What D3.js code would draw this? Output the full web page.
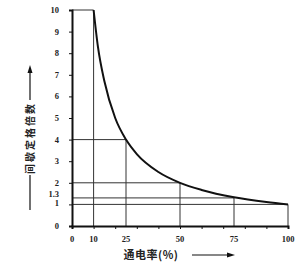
<!DOCTYPE html>
<html><head><meta charset="utf-8">
<script src="https://cdn.jsdelivr.net/npm/d3@7/dist/d3.min.js"></script>
<style>html,body{margin:0;padding:0;background:#fff;}svg{display:block;}</style>
</head><body>
<script>
// Data
const curveX = [10, 12, 15, 20, 25, 30, 40, 50, 60, 75, 90, 100];
const curveY = [10, 8.3, 6.7, 5, 4, 3.33, 2.5, 2, 1.67, 1.33, 1.11, 1];
const refX = [10, 25, 50, 75, 100];
const refY = [10, 4, 2, 1.3, 1];
const yTicks = [0, 1, 1.3, 2, 3, 4, 5, 6, 7, 8, 9, 10];
const yTickMarks = [0, 1, 2, 3, 4, 5, 6, 7, 8, 9, 10];
const xTickMarks = [0, 10, 20, 30, 40, 50, 60, 70, 80, 90, 100];
const xTickLabels = [0, 10, 25, 50, 75, 100];
const xTitle = "通电率(%)";
const yTitle = "间歇定格倍数";

const W = 300, H = 275;
const svg = d3.select("body").append("svg").attr("width", W).attr("height", H);
const x = d3.scaleLinear().domain([0, 100]).range([72, 288]);
const y = d3.scaleLinear().domain([0, 10]).range([226, 10]);
const serif = "'Liberation Serif','DejaVu Serif',serif";

// reference lines
const g = svg.append("g").attr("stroke", "#333").attr("stroke-width", 1);
refX.forEach((rx, i) => {
  g.append("line").attr("x1", x(0)).attr("x2", x(rx)).attr("y1", y(refY[i])).attr("y2", y(refY[i]));
  g.append("line").attr("x1", x(rx)).attr("x2", x(rx)).attr("y1", y(0)).attr("y2", y(refY[i]));
});

// curve
const pts = curveX.map((d, i) => [d, curveY[i]]);
svg.append("path").datum(pts)
  .attr("d", d3.line().x(d => x(d[0])).y(d => y(d[1])).curve(d3.curveMonotoneX))
  .attr("fill", "none").attr("stroke", "#111").attr("stroke-width", 2);

// axes
const yAxis = d3.axisLeft(y).tickValues(yTickMarks).tickSize(3).tickFormat("");
const ya = svg.append("g").attr("transform", `translate(${x(0)},0)`).call(yAxis);
ya.select(".domain").attr("stroke", "#111").attr("stroke-width", 2);
ya.selectAll(".tick line").attr("stroke", "#111");
const xAxis = d3.axisBottom(x).tickValues(xTickMarks).tickSize(3).tickFormat("");
const xa = svg.append("g").attr("transform", `translate(0,${y(0)})`).call(xAxis);
xa.select(".domain").attr("stroke", "#111").attr("stroke-width", 2);
xa.selectAll(".tick line").attr("stroke", "#111");

// y tick labels
svg.append("g").selectAll("text").data(yTicks).join("text")
  .attr("x", 59).attr("y", d => y(d) + (d === 1.3 ? -1 : d === 1 ? 2 : 3))
  .attr("text-anchor", "end").attr("font-family", serif).attr("font-size", 8.5)
  .attr("font-weight", "bold").attr("fill", "#222")
  .text(d => d);

// x tick labels
svg.append("g").selectAll("text").data(xTickLabels).join("text")
  .attr("x", d => x(d)).attr("y", 242)
  .attr("text-anchor", "middle").attr("font-family", serif).attr("font-size", 8.5)
  .attr("font-weight", "bold").attr("fill", "#222")
  .text(d => d);

// x title + arrow
svg.append("text").attr("x", 151).attr("y", 259).attr("text-anchor", "middle")
  .attr("font-family", "'Noto Sans CJK SC',sans-serif").attr("font-size", 11).attr("font-weight", "bold")
  .attr("letter-spacing", 0.5)
  .attr("fill", "#222").text(xTitle);
svg.append("line").attr("x1", 192).attr("x2", 229).attr("y1", 255).attr("y2", 255)
  .attr("stroke", "#111").attr("stroke-width", 1.2);
svg.append("path").attr("d", "M227,252.5 L235,255 L227,257.5 Z").attr("fill", "#111");

// y title + arrow
svg.append("text").attr("transform", "translate(34,138) rotate(-90)").attr("text-anchor", "middle")
  .attr("font-family", "'Noto Sans CJK SC',sans-serif").attr("font-size", 10).attr("font-weight", "bold")
  .attr("letter-spacing", 2)
  .attr("fill", "#222").text(yTitle);
svg.append("line").attr("x1", 30).attr("x2", 30).attr("y1", 175).attr("y2", 210)
  .attr("stroke", "#111").attr("stroke-width", 1.2);
svg.append("line").attr("x1", 30).attr("x2", 30).attr("y1", 72).attr("y2", 100)
  .attr("stroke", "#111").attr("stroke-width", 1.2);
svg.append("path").attr("d", "M27.5,73 L30,65 L32.5,73 Z").attr("fill", "#111");
</script>
</body></html>
